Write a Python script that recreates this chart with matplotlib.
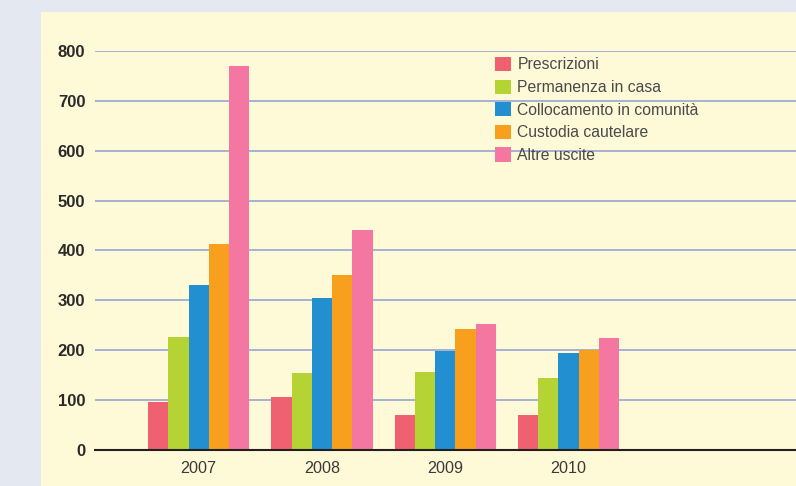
import numpy as np
import matplotlib
matplotlib.use("Agg")
import matplotlib.pyplot as plt
from matplotlib.patches import Rectangle

years = ["2007", "2008", "2009", "2010"]
series = ["Prescrizioni", "Permanenza in casa", "Collocamento in comunità",
          "Custodia cautelare", "Altre uscite"]
prescrizioni = [96, 106, 70, 70]
permanenza = [226, 154, 156, 144]
collocamento = [330, 305, 199, 194]
custodia = [414, 350, 242, 200]
altre = [770, 442, 252, 224]
yticks = [0, 100, 200, 300, 400, 500, 600, 700, 800]

colors = ["#ef6070", "#b5d334", "#2290d0", "#f8a01e", "#f377a0"]
values = [prescrizioni, permanenza, collocamento, custodia, altre]

plt.rcParams["font.family"] = ["Liberation Sans", "DejaVu Sans"]

W, H = 796, 486
fig = plt.figure(figsize=(W / 100, H / 100), dpi=100)
fig.patch.set_facecolor("#e4e9f1")
# pale yellow panel behind the chart
fig.patches.append(Rectangle((41 / W, 0), 1 - 41 / W, 1 - 12 / H,
                             transform=fig.transFigure, facecolor="#fef9d7",
                             edgecolor="none", zorder=-10))

ax = fig.add_axes([95 / W, 36 / H, 1 - 95 / W, (450 - 51) / H])
ax.set_facecolor("none")
ax.set_zorder(1)

x = np.arange(len(years))
w = 0.1646
for k, (name, vals, c) in enumerate(zip(series, values, colors)):
    ax.bar(x + (k - 2) * w, vals, w, color=c, label=name, linewidth=0, zorder=3)

ax.set_xlim(-0.841, 4.844)
ax.set_ylim(0, 800)
ax.set_yticks(yticks)
ax.set_yticklabels([str(v) for v in yticks], fontsize=12, fontweight="bold",
                   color="#2a2a2a")
ax.set_xticks(x)
ax.set_xticklabels(years, fontsize=11.6, color="#3a3a3a")
ax.tick_params(axis="y", length=0, pad=7)
ax.tick_params(axis="x", length=0, pad=8)

ax.grid(axis="y", color="#95a6d4", lw=1.2, zorder=1)
for s in ("top", "right", "left"):
    ax.spines[s].set_visible(False)
ax.spines["bottom"].set_color("#231f20")
ax.spines["bottom"].set_linewidth(1.5)
ax.spines["bottom"].set_zorder(4)

leg = ax.legend(loc="upper left", bbox_to_anchor=(495 / W, 1 - 57 / H),
                bbox_transform=fig.transFigure, frameon=False, fontsize=11.3,
                handlelength=1.02, handleheight=1.0, handletextpad=0.4,
                labelspacing=0.46, borderpad=0, borderaxespad=0)
for t in leg.get_texts():
    t.set_color("#4a4a4a")

fig.savefig("out.png", dpi=100, facecolor=fig.get_facecolor())
